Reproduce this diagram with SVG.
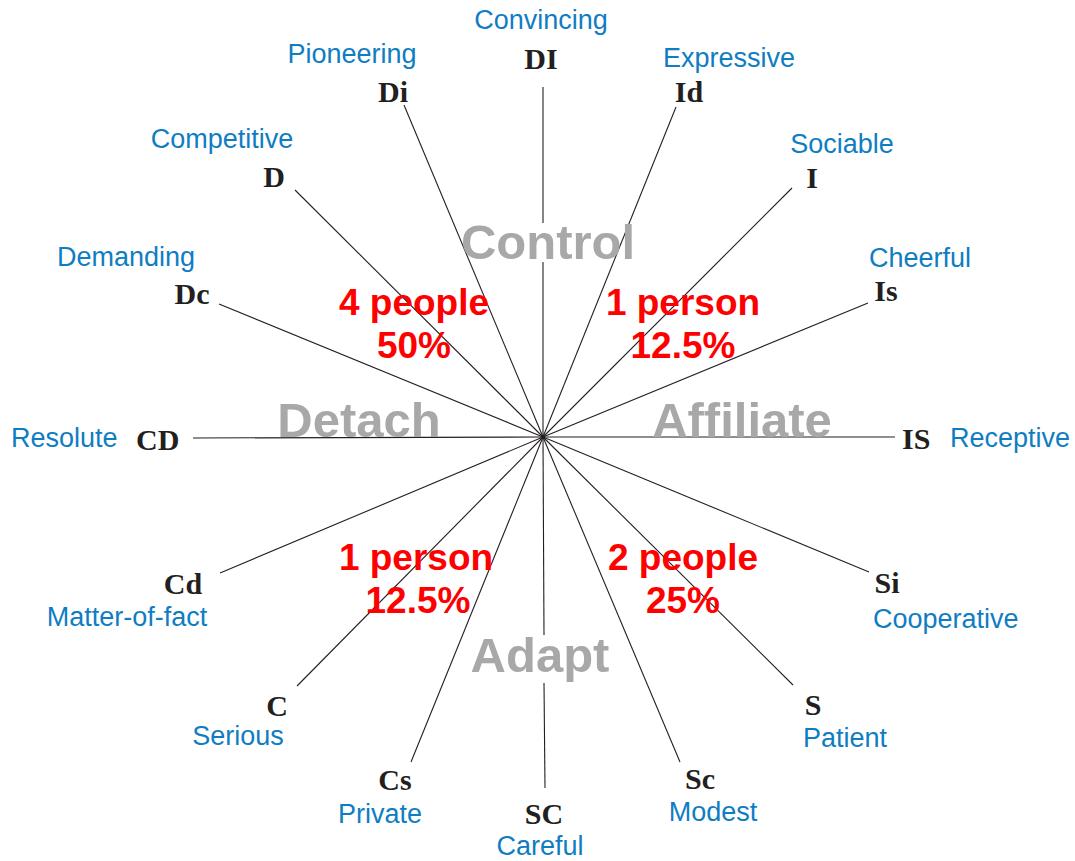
<svg xmlns="http://www.w3.org/2000/svg" width="1075" height="861" viewBox="0 0 1075 861">
<style>
.ln{stroke:#231f20;stroke-width:1.1;fill:none}
.code{font-family:"Liberation Serif",serif;font-weight:bold;font-size:30px;fill:#231f20}
.desc{font-family:"Liberation Sans",Arial,sans-serif;font-size:27px;fill:#0f7dc2}
.quad{font-family:"Liberation Sans",Arial,sans-serif;font-weight:bold;font-size:49px;fill:#a8a8a8;text-anchor:middle}
.cnt{font-family:"Liberation Sans",Arial,sans-serif;font-weight:bold;font-size:37px;fill:#ff0000;text-anchor:middle}
.m{text-anchor:middle}
</style>
<rect width="1075" height="861" fill="#ffffff"/>
<g id="connectors">
<line class="ln" x1="543" y1="437" x2="543" y2="262"/>
<line class="ln" x1="543" y1="223" x2="543" y2="87"/>
<line class="ln" x1="543" y1="437" x2="404" y2="105"/>
<line class="ln" x1="543" y1="437" x2="676" y2="107"/>
<line class="ln" x1="543" y1="437" x2="295" y2="190"/>
<line class="ln" x1="543" y1="437" x2="792" y2="188"/>
<line class="ln" x1="543" y1="437" x2="219" y2="304"/>
<line class="ln" x1="543" y1="437" x2="868" y2="303"/>
<line class="ln" x1="543" y1="437" x2="193" y2="438"/>
<line class="ln" x1="543" y1="437" x2="895" y2="437"/>
<line class="ln" x1="543" y1="437" x2="220" y2="573"/>
<line class="ln" x1="543" y1="437" x2="869" y2="572"/>
<line class="ln" x1="543" y1="437" x2="297" y2="686"/>
<line class="ln" x1="543" y1="437" x2="793" y2="685"/>
<line class="ln" x1="543" y1="437" x2="411" y2="762"/>
<line class="ln" x1="543" y1="437" x2="680" y2="762"/>
<line class="ln" x1="543" y1="437" x2="544" y2="635"/>
<line class="ln" x1="544" y1="683" x2="545" y2="788"/>
<circle cx="543" cy="437" r="2" fill="#231f20"/>
</g>
<g id="quadrants">
<text class="quad" x="548" y="259">Control</text>
<text class="quad" x="359" y="437">Detach</text>
<text class="quad" x="742" y="437">Affiliate</text>
<text class="quad" x="540" y="672">Adapt</text>
</g>
<g id="counts">
<text class="cnt" x="414" y="315">4 people</text>
<text class="cnt" x="414" y="358">50%</text>
<text class="cnt" x="683" y="315">1 person</text>
<text class="cnt" x="683" y="358">12.5%</text>
<text class="cnt" x="416" y="570">1 person</text>
<text class="cnt" x="418" y="613">12.5%</text>
<text class="cnt" x="683" y="570">2 people</text>
<text class="cnt" x="683" y="613">25%</text>
</g>
<g id="node-DI"><text class="desc m" x="541" y="29">Convincing</text><text class="code m" x="541" y="69">DI</text></g>
<g id="node-Di"><text class="desc m" x="352" y="63">Pioneering</text><text class="code m" x="393" y="102">Di</text></g>
<g id="node-Id"><text class="desc m" x="729" y="67">Expressive</text><text class="code m" x="689" y="102">Id</text></g>
<g id="node-D"><text class="desc m" x="222" y="148">Competitive</text><text class="code m" x="274" y="187">D</text></g>
<g id="node-I"><text class="desc m" x="842" y="153">Sociable</text><text class="code m" x="812" y="188">I</text></g>
<g id="node-Dc"><text class="desc m" x="126" y="266">Demanding</text><text class="code m" x="192" y="304">Dc</text></g>
<g id="node-Is"><text class="desc m" x="920" y="267">Cheerful</text><text class="code m" x="886" y="301">Is</text></g>
<g id="node-CD"><text class="desc" x="11" y="447">Resolute</text><text class="code" x="136" y="450">CD</text></g>
<g id="node-IS"><text class="code" x="902" y="449">IS</text><text class="desc" x="950" y="447">Receptive</text></g>
<g id="node-Cd"><text class="code m" x="183" y="594">Cd</text><text class="desc m" x="127" y="626">Matter-of-fact</text></g>
<g id="node-Si"><text class="code m" x="887" y="593">Si</text><text class="desc" x="873" y="628">Cooperative</text></g>
<g id="node-C"><text class="code m" x="277" y="716">C</text><text class="desc m" x="238" y="745">Serious</text></g>
<g id="node-S"><text class="code m" x="813" y="715">S</text><text class="desc" x="803" y="747">Patient</text></g>
<g id="node-Cs"><text class="code m" x="395" y="790">Cs</text><text class="desc m" x="380" y="823">Private</text></g>
<g id="node-SC"><text class="code m" x="544" y="824">SC</text><text class="desc m" x="540" y="855">Careful</text></g>
<g id="node-Sc"><text class="code m" x="700" y="789">Sc</text><text class="desc m" x="713" y="821">Modest</text></g>
</svg>
